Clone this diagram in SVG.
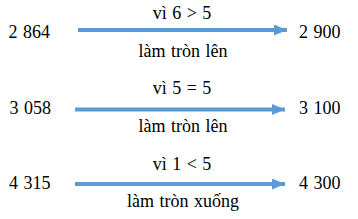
<svg xmlns="http://www.w3.org/2000/svg" width="358" height="219" viewBox="0 0 358 219">
<defs>
<marker id="ah" markerUnits="userSpaceOnUse" markerWidth="13" markerHeight="11" refX="13" refY="5.5" orient="auto">
<path d="M0,0 L13,5.5 L0,11 Z" fill="#5B9BD5"/>
</marker>
<style>
text{font-family:'Liberation Serif','Times New Roman',serif;font-size:18px;word-spacing:1px;fill:#000}
.m{text-anchor:middle}
.c{stroke:#5B9BD5;stroke-width:4;fill:none}
</style>
</defs>
<rect width="358" height="219" fill="#fff"/>
<g id="connectors">
<line class="c" x1="78" y1="30" x2="287" y2="30" marker-end="url(#ah)"/>
<line class="c" x1="75" y1="109.5" x2="285" y2="109.5" marker-end="url(#ah)"/>
<line class="c" x1="75" y1="184" x2="285" y2="184" marker-end="url(#ah)"/>
</g>
<g id="row1">
<text x="8.5" y="38">2 864</text>
<text class="m" x="182" y="19">vì 6 &gt; 5</text>
<text class="m" x="183" y="57">làm tròn lên</text>
<text x="299" y="38">2 900</text>
</g>
<g id="row2">
<text x="9.5" y="114">3 058</text>
<text class="m" x="182" y="94">vì 5 = 5</text>
<text class="m" x="183" y="132">làm tròn lên</text>
<text x="299" y="114">3 100</text>
</g>
<g id="row3">
<text x="9" y="189">4 315</text>
<text class="m" x="182" y="170">vì 1 &lt; 5</text>
<text class="m" x="183" y="207">làm tròn xuống</text>
<text x="299" y="189">4 300</text>
</g>
</svg>
